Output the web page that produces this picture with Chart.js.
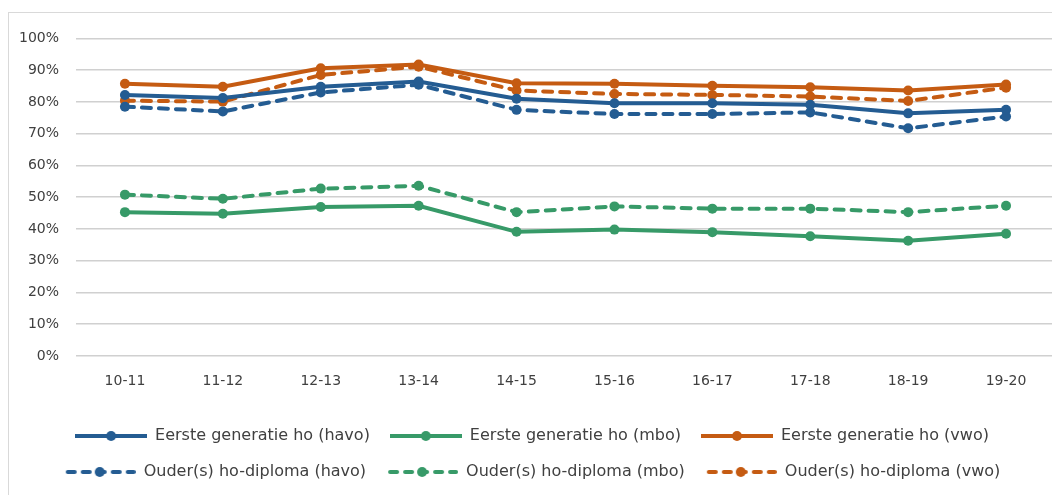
<!DOCTYPE html>
<html>
<head>
<meta charset="utf-8">
<script src="https://cdn.jsdelivr.net/npm/chart.js@4"></script>
<style>
  html, body { margin: 0; padding: 0; background: #fff; overflow: hidden; }
  #frame { position: absolute; left: 8px; top: 12px; width: 1070px; height: 500px; border: 1px solid #d9d9d9; }
  #wrap { position: absolute; left: 0; top: 0; width: 1060px; height: 477px; }
</style>
</head>
<body>
<div id="frame"><div id="wrap"><canvas id="chart"></canvas></div></div>
<script>
const years = ['10-11', '11-12', '12-13', '13-14', '14-15', '15-16', '16-17', '17-18', '18-19', '19-20'];

const eersteHavo = [82.2, 81.2, 84.8, 86.4, 81.0, 79.6, 79.6, 79.1, 76.4, 77.5];
const eersteMbo  = [45.3, 44.8, 46.9, 47.3, 39.1, 39.8, 39.0, 37.7, 36.3, 38.5];
const eersteVwo  = [85.7, 84.8, 90.6, 91.8, 85.9, 85.7, 85.1, 84.6, 83.6, 85.5];
const ouderHavo  = [78.5, 77.0, 83.0, 85.4, 77.5, 76.2, 76.2, 76.7, 71.7, 75.4];
const ouderMbo   = [50.8, 49.5, 52.7, 53.6, 45.3, 47.1, 46.4, 46.4, 45.3, 47.3];
const ouderVwo   = [80.4, 80.1, 88.5, 91.1, 83.6, 82.5, 82.2, 81.7, 80.3, 84.5];

const BLUE = '#245c92';
const GREEN = '#379a68';
const ORANGE = '#c55b12';
const TEXT = '#404040';
const FONT = "'DejaVu Sans', sans-serif";

function legendIcon(color, dashed) {
  const c = document.createElement('canvas');
  c.width = 72; c.height = 12;
  const g = c.getContext('2d');
  g.strokeStyle = color;
  g.fillStyle = color;
  g.lineWidth = 4;
  g.lineCap = dashed ? 'round' : 'butt';
  if (dashed) {
    g.setLineDash([7, 8]);
    g.lineDashOffset = -2;
  }
  g.beginPath();
  g.moveTo(dashed ? 2 : 0, 6);
  g.lineTo(dashed ? 70 : 72, 6);
  g.stroke();
  g.beginPath();
  g.arc(36, 6, 5, 0, Math.PI * 2);
  g.fill();
  return c;
}

function series(label, data, color, dashed) {
  return {
    label: label,
    data: data,
    borderColor: color,
    backgroundColor: color,
    borderWidth: 4,
    borderDash: dashed ? [9, 8] : [],
    borderCapStyle: dashed ? 'round' : 'butt',
    pointRadius: 5,
    pointHoverRadius: 5,
    pointBorderWidth: 0,
    tension: 0,
    legendIcon: legendIcon(color, dashed)
  };
}

const datasets = [
  series('Eerste generatie ho (havo)', eersteHavo, BLUE, false),
  series('Eerste generatie ho (mbo)', eersteMbo, GREEN, false),
  series('Eerste generatie ho (vwo)', eersteVwo, ORANGE, false),
  series('Ouder(s) ho-diploma (havo)', ouderHavo, BLUE, true),
  series('Ouder(s) ho-diploma (mbo)', ouderMbo, GREEN, true),
  series('Ouder(s) ho-diploma (vwo)', ouderVwo, ORANGE, true)
];

new Chart(document.getElementById('chart').getContext('2d'), {
  type: 'line',
  data: { labels: years, datasets: datasets },
  options: {
    responsive: true,
    maintainAspectRatio: false,
    animation: false,
    layout: { padding: { top: 24, right: 14, left: 0, bottom: 0 } },
    plugins: {
      tooltip: { enabled: false },
      legend: {
        position: 'bottom',
        labels: {
          usePointStyle: true,
          pointStyleWidth: 72,
          padding: 20,
          color: TEXT,
          font: { family: FONT, size: 16 },
          generateLabels: chart => chart.data.datasets.map((ds, i) => ({
            text: ds.label,
            pointStyle: ds.legendIcon,
            fillStyle: ds.borderColor,
            strokeStyle: ds.borderColor,
            lineWidth: 0,
            fontColor: TEXT,
            hidden: false,
            datasetIndex: i
          }))
        }
      }
    },
    scales: {
      x: {
        offset: true,
        grid: { display: false, drawTicks: false, offset: true },
        border: { display: false },
        ticks: { color: TEXT, font: { family: FONT, size: 14 }, padding: 17 },
        afterFit: s => { s.height = 52; }
      },
      y: {
        min: 0,
        max: 100,
        grid: { color: '#d0d0d0', lineWidth: 1.5, drawTicks: false },
        border: { display: false },
        ticks: {
          stepSize: 10,
          padding: 17,
          color: TEXT,
          font: { family: FONT, size: 14 },
          callback: v => v + '%'
        },
        afterFit: s => { s.width = 67; }
      }
    }
  }
});
</script>
</body>
</html>
